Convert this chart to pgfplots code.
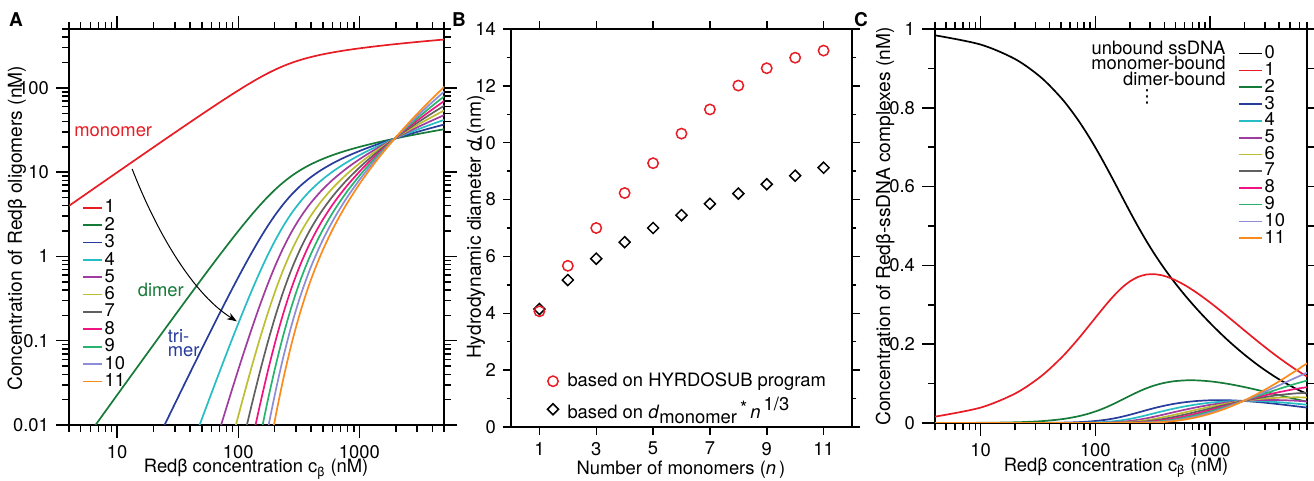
\documentclass[border=0pt]{standalone}
\usepackage{fontspec}
\setmainfont{TeX Gyre Heros}
\newfontfamily\dejavu{DejaVu Sans}
\usepackage{pgfplots}
\usepackage{pgfplotstable}
\pgfplotsset{compat=1.18}
\usetikzlibrary{arrows.meta}

\definecolor{c0}{RGB}{0,0,0}
\definecolor{c1}{RGB}{232,28,36}
\definecolor{c2}{RGB}{22,122,56}
\definecolor{c3}{RGB}{40,60,156}
\definecolor{c4}{RGB}{38,190,196}
\definecolor{c5}{RGB}{160,60,160}
\definecolor{c6}{RGB}{190,190,50}
\definecolor{c7}{RGB}{96,96,96}
\definecolor{c8}{RGB}{240,20,130}
\definecolor{c9}{RGB}{40,180,110}
\definecolor{c10}{RGB}{140,140,215}
\definecolor{c11}{RGB}{250,140,30}

\newcommand{\fs}{\fontsize{9.2}{11}\selectfont}
\newcommand{\fl}{\fontsize{9.6}{11}\selectfont}

% oligomer concentrations (nM) vs total Red-beta concentration c
\pgfplotstableread{
r c m1 m2 m3 m4 m5 m6 m7 m8 m9 m10 m11
0.0121 4.0 3.99 0.00366 4.43e-5 5.36e-7 6.48e-9 7.84e-11 9.5e-13 1.15e-14 1.39e-16 1.68e-18 2.03e-20
0.03 9.95 9.9 0.0225 6.75e-4 2.03e-5 6.08e-7 1.82e-8 5.47e-10 1.64e-11 4.92e-13 1.48e-14 4.43e-16
0.06 20.0 19.8 0.09 0.0054 3.24e-4 1.94e-5 1.17e-6 7.0e-8 4.2e-9 2.52e-10 1.51e-11 9.07e-13
0.1 33.59 33 0.25 0.025 0.0025 2.5e-4 2.5e-5 2.5e-6 2.5e-7 2.5e-8 2.5e-9 2.5e-10
0.15 50.94 49.5 0.5625 0.0844 0.01266 0.0019 2.85e-4 4.27e-5 6.4e-6 9.6e-7 1.44e-7 2.16e-8
0.2 68.81 66 1.0 0.2 0.04 0.008 0.0016 3.2e-4 6.4e-5 1.28e-5 2.56e-6 5.12e-7
0.25 87.36 82.5 1.5625 0.3906 0.0977 0.0244 0.0061 0.00153 3.81e-4 9.5e-5 2.38e-5 5.96e-6
0.3 106.81 99 2.25 0.675 0.2025 0.0608 0.0182 0.00547 0.00164 4.92e-4 1.48e-4 4.43e-5
0.35 127.46 115.5 3.0625 1.0719 0.3752 0.1313 0.04596 0.01608 0.00563 0.00197 6.9e-4 2.41e-4
0.4 149.77 132 4 1.6 0.64 0.256 0.1024 0.04096 0.01638 0.00655 0.00262 0.00105
0.45 174.40 148.5 5.0625 2.2781 1.0252 0.4613 0.2076 0.09342 0.04204 0.01892 0.00851 0.00383
0.5 202.34 165 6.25 3.125 1.5625 0.78125 0.3906 0.1953 0.09766 0.04883 0.02441 0.01221
0.55 235.09 181.5 7.5625 4.1594 2.2877 1.2582 0.692 0.3806 0.2093 0.1151 0.0633 0.0348
0.6 274.91 198 9 5.4 3.24 1.944 1.1664 0.6998 0.4199 0.2519 0.1512 0.0907
0.65 325.28 214.5 10.5625 6.8656 4.4627 2.9007 1.8855 1.2256 0.7966 0.5178 0.3366 0.2188
0.7 391.41 231 12.25 8.575 6.0025 4.2018 2.9412 2.0589 1.4412 1.0088 0.7062 0.4943
0.75 481.24 247.5 14.0625 10.5469 7.9102 5.9326 4.4495 3.3371 2.5028 1.8771 1.4078 1.0559
0.8 606.56 264 16 12.8 10.24 8.192 6.5536 5.2429 4.1943 3.3554 2.6844 2.1475
0.85 784.87 280.5 18.0625 15.3531 13.0502 11.0926 9.4288 8.0144 6.8123 5.7904 4.9219 4.1836
0.9 1041.75 297 20.25 18.225 16.4025 14.7623 13.286 11.9574 10.7617 9.6855 8.717 7.8453
0.95 1414.17 313.5 22.5625 21.4344 20.3627 19.3445 18.3773 17.4584 16.5855 15.7562 14.9684 14.22
1.0 1955 330 25 25 25 25 25 25 25 25 25 25
1.05 2738.9 346.5 27.5625 28.9406 30.3877 31.9071 33.5024 35.1775 36.9364 38.7832 40.7224 42.7585
1.1 3870.1 363 30.25 33.275 36.6025 40.2628 44.289 48.7179 53.5897 58.9487 64.8436 71.3279
1.15 5492.6 379.5 33.0625 38.0219 43.7252 50.2839 57.8265 66.5005 76.4756 87.9469 101.139 116.31
1.2 7803.1 396 36 43.2 51.84 62.208 74.6496 89.5795 107.495 128.995 154.793 185.752
}\tabA

% Red-beta/ssDNA complexes (nM), 0 = unbound ssDNA
\pgfplotstableread{
r c f0 f1 f2 f3 f4 f5 f6 f7 f8 f9 f10 f11
0.0121 4.0 0.984 0.0161 0.000075 0 0 0 0 0 0 0 0 0
0.03 9.95 0.9607 0.0389 0.00045 0.0000083 0 0 0 0 0 0 0 0
0.06 20.0 0.9236 0.0748 0.00174 0.000064 0.0000038 0 0 0 0 0 0 0
0.1 33.59 0.8771 0.1184 0.00459 0.00028 0.000028 0.0000028 0 0 0 0 0 0
0.15 50.94 0.8234 0.1667 0.00968 0.000887 0.000133 0.00002 0.000003 0 0 0 0 0
0.2 68.81 0.7739 0.2089 0.01617 0.001975 0.000395 0.000079 0.0000158 0.0000032 0 0 0 0
0.25 87.36 0.7279 0.2457 0.02376 0.003628 0.000907 0.000227 0.0000567 0.0000142 0.0000035 0 0 0
0.3 106.81 0.6849 0.2774 0.03221 0.0059 0.00177 0.000531 0.000159 0.0000478 0.0000143 0.0000043 0.0000013 0
0.35 127.46 0.6444 0.3045 0.04125 0.008814 0.003085 0.00108 0.000378 0.000132 0.0000463 0.0000162 0.0000057 0.000002
0.4 149.77 0.6061 0.3273 0.05067 0.01237 0.00495 0.00198 0.000792 0.000317 0.000127 0.0000507 0.0000203 0.0000081
0.45 174.40 0.5693 0.3459 0.06024 0.01655 0.007447 0.003351 0.001508 0.000679 0.000305 0.000137 0.0000618 0.0000278
0.5 202.34 0.5338 0.3603 0.06973 0.02129 0.01064 0.00532 0.00266 0.00133 0.000665 0.000333 0.000166 0.000083
0.55 235.09 0.4991 0.3706 0.07889 0.02649 0.01457 0.008013 0.004407 0.002424 0.001333 0.000733 0.000403 0.000222
0.6 274.91 0.4648 0.3765 0.08743 0.03203 0.01922 0.01153 0.006917 0.004151 0.00249 0.001494 0.000897 0.000538
0.65 325.28 0.4304 0.3777 0.09502 0.03771 0.02451 0.01593 0.01036 0.00673 0.004375 0.002844 0.001849 0.001202
0.7 391.41 0.3956 0.3739 0.10129 0.04329 0.0303 0.02121 0.01485 0.01039 0.007275 0.005093 0.003565 0.002495
0.75 481.24 0.36 0.3645 0.10582 0.04845 0.03634 0.02725 0.02044 0.01533 0.0115 0.008624 0.006468 0.004851
0.8 606.56 0.3235 0.3494 0.10819 0.05284 0.04227 0.03382 0.02705 0.02164 0.01731 0.01385 0.01108 0.008865
0.85 784.87 0.2862 0.3284 0.10804 0.05607 0.04766 0.04051 0.03443 0.02927 0.02488 0.02115 0.01797 0.01528
0.9 1041.75 0.2485 0.3019 0.10517 0.05779 0.05201 0.04681 0.04213 0.03791 0.03412 0.03071 0.02764 0.02488
0.95 1414.17 0.2112 0.2709 0.09962 0.05778 0.05489 0.05214 0.04954 0.04706 0.04471 0.04247 0.04035 0.03833
1.0 1955 0.1756 0.237 0.09173 0.056 0.056 0.056 0.056 0.056 0.056 0.056 0.056 0.056
1.05 2738.9 0.1426 0.2021 0.08214 0.05266 0.05529 0.05805 0.06096 0.064 0.06721 0.07056 0.07409 0.0778
1.1 3870.1 0.1133 0.1683 0.07163 0.04811 0.05292 0.05821 0.06403 0.07044 0.07748 0.08523 0.09375 0.1031
1.15 5492.6 0.0883 0.1371 0.06102 0.04284 0.04927 0.05666 0.06516 0.07493 0.08617 0.0991 0.114 0.1311
1.2 7803.1 0.0677 0.1097 0.05094 0.03732 0.04479 0.05375 0.0645 0.0774 0.09287 0.1114 0.1337 0.1605
}\tabC

\pgfplotsset{
  panel/.style={
    scale only axis, clip=true,
    axis line style={line width=0.75pt},
    tick style={black, line width=0.75pt},
    tick align=outside, tick pos=both,
    xticklabel pos=lower, yticklabel pos=left,
    major tick length=6.5pt, minor tick length=3.5pt,
    tick label style={font=\fs},
    xlabel style={font=\fs}, ylabel style={font=\fl},
    /pgf/number format/assume math mode=true,
    /pgf/number format/1000 sep={},
  },
  curve/.style={line width=0.85pt, smooth},
  legA/.style={legend image code/.code={\draw[##1] (0pt,0pt) -- (9.5pt,0pt);}},
  legC/.style={legend image code/.code={\draw[##1] (0pt,0pt) -- (11.5pt,0pt);}},
  markleg/.style={legend image code/.code={\draw[##1] plot coordinates {(0pt,0pt)};}},
}

\begin{document}
\begin{tikzpicture}
\useasboundingbox (0,0) rectangle (657pt,240.5pt);

% ---------- A ----------
\begin{axis}[panel,
  at={(34.5pt,28pt)}, anchor=south west, width=187.5pt, height=198pt,
  xmode=log, ymode=log, xmin=4, xmax=5000, ymin=0.01, ymax=500,
  log ticks with fixed point,
  xtick={10,100,1000},
  minor xtick={4,5,6,7,8,9,20,30,40,50,60,70,80,90,200,300,400,500,600,700,800,900,2000,3000,4000,5000},
  ytick={0.01,0.1,1,10,100},
  minor ytick={0.02,0.03,0.04,0.05,0.06,0.07,0.08,0.09,0.2,0.3,0.4,0.5,0.6,0.7,0.8,0.9,2,3,4,5,6,7,8,9,20,30,40,50,60,70,80,90,200,300,400,500},
  xlabel={Redβ concentration c\textsubscript{β} (nM)},
  xlabel style={at={(axis description cs:0.499,-0.112)}, anchor=center},
  ylabel={Concentration of Redβ oligomers (nM)},
  ylabel style={at={(axis description cs:-0.139,0.497)}, anchor=center},
  legend style={at={(axis description cs:0.0347,0.569)}, anchor=north west,
    draw=none, fill=none, inner sep=0pt, outer sep=0pt,
    row sep=0.7pt, column sep=1pt, font=\fs, nodes={inner sep=0pt}},
  legend cell align=left, legA,
]
\addplot[c1, curve] table[x=c, y=m1] {\tabA}; \addlegendentry{1}
\addplot[c2, curve] table[x=c, y=m2] {\tabA}; \addlegendentry{2}
\addplot[c3, curve] table[x=c, y=m3] {\tabA}; \addlegendentry{3}
\addplot[c4, curve] table[x=c, y=m4] {\tabA}; \addlegendentry{4}
\addplot[c5, curve] table[x=c, y=m5] {\tabA}; \addlegendentry{5}
\addplot[c6, curve] table[x=c, y=m6] {\tabA}; \addlegendentry{6}
\addplot[c7, curve] table[x=c, y=m7] {\tabA}; \addlegendentry{7}
\addplot[c8, curve] table[x=c, y=m8] {\tabA}; \addlegendentry{8}
\addplot[c9, curve] table[x=c, y=m9] {\tabA}; \addlegendentry{9}
\addplot[c10, curve] table[x=c, y=m10] {\tabA}; \addlegendentry{10}
\addplot[c11, curve] table[x=c, y=m11] {\tabA}; \addlegendentry{11}
\node[anchor=west, text=c1, font=\fs, inner sep=0pt] at (axis cs:4.4,29.9) {monomer};
\node[anchor=west, text=c2, font=\fs, inner sep=0pt] at (axis cs:14.7,0.405) {dimer};
\node[anchor=west, text=c3, font=\fs, inner sep=0pt] at (axis cs:26,0.1125) {tri-};
\node[anchor=west, text=c3, font=\fs, inner sep=0pt] at (axis cs:26,0.0746) {mer};
\draw[line width=0.5pt, -{Stealth[length=5pt,width=3.6pt]}]
  (axis cs:13.3,10.9) .. controls (axis cs:19.5,2.63) and (axis cs:38.8,0.386) .. (axis cs:97.3,0.17);
\end{axis}

% ---------- B ----------
\begin{axis}[panel,
  at={(255.5pt,27pt)}, anchor=south west, width=170.5pt, height=199pt,
  xmin=0, xmax=12, ymin=0, ymax=14,
  xtick={1,3,5,7,9,11}, ytick={0,2,4,6,8,10,12,14}, minor ytick={1,3,5,7,9,11,13},
  major tick length=4pt, minor tick length=2.2pt,
  xlabel={Number of monomers (\textit{n}\,)},
  xlabel style={at={(axis description cs:0.4985,-0.108)}, anchor=center},
  ylabel={Hydrodynamic diameter \textit{d} (nm)},
  ylabel style={at={(axis description cs:-0.1026,0.5025)}, anchor=center},
  legend style={at={(axis description cs:0.107,0.0115)}, anchor=south west,
    draw=none, fill=none, inner sep=0pt, outer sep=0pt,
    row sep=2.7pt, column sep=4pt, font=\fs, nodes={inner sep=0.5pt}},
  legend cell align=left, reverse legend,
]
\addplot[only marks, mark=square, mark size=1.95pt, black,
  mark options={rotate=45, line width=0.75pt}, markleg] coordinates {
  (1,4.15) (2,5.17) (3,5.92) (4,6.50) (5,7.00) (6,7.45) (7,7.85) (8,8.21) (9,8.54) (10,8.84) (11,9.12)
};
\addlegendentry{based on \textit{d}\raisebox{-2.4pt}{monomer}\,\raisebox{2pt}{*}\,\textit{n}\,\raisebox{4pt}{1/3}}
\addplot[only marks, mark=o, mark size=2.6pt, c1,
  mark options={line width=0.75pt}, markleg] coordinates {
  (1,4.07) (2,5.67) (3,7.00) (4,8.23) (5,9.28) (6,10.32) (7,11.17) (8,12.01) (9,12.62) (10,12.99) (11,13.24)
};
\addlegendentry{based on HYRDOSUB program}
\end{axis}

% ---------- C ----------
\begin{axis}[panel,
  at={(467.5pt,29pt)}, anchor=south west, width=186pt, height=197pt,
  xmode=log, xmin=4, xmax=7000, ymin=0, ymax=1,
  log ticks with fixed point,
  xtick={10,100,1000},
  minor xtick={4,5,6,7,8,9,20,30,40,50,60,70,80,90,200,300,400,500,600,700,800,900,2000,3000,4000,5000,6000,7000},
  ytick={0,0.2,0.4,0.6,0.8,1}, minor ytick={0.1,0.3,0.5,0.7,0.9},
  xlabel={Redβ concentration c\textsubscript{β} (nM)},
  xlabel style={at={(axis description cs:0.4866,-0.114)}, anchor=center},
  ylabel={Concentration of Redβ-ssDNA complexes (nM)},
  ylabel style={at={(axis description cs:-0.134,0.499)}, anchor=center},
  legend style={at={(axis description cs:0.8145,0.958)}, anchor=north west,
    draw=none, fill=none, inner sep=0pt, outer sep=0pt,
    row sep=0.4pt, column sep=1pt, font=\fs, nodes={inner sep=0pt}},
  legend cell align=left, legC,
]
\addplot[c0, curve] table[x=c, y=f0] {\tabC}; \addlegendentry{0}
\addplot[c1, curve] table[x=c, y=f1] {\tabC}; \addlegendentry{1}
\addplot[c2, curve] table[x=c, y=f2] {\tabC}; \addlegendentry{2}
\addplot[c3, curve] table[x=c, y=f3] {\tabC}; \addlegendentry{3}
\addplot[c4, curve] table[x=c, y=f4] {\tabC}; \addlegendentry{4}
\addplot[c5, curve] table[x=c, y=f5] {\tabC}; \addlegendentry{5}
\addplot[c6, curve] table[x=c, y=f6] {\tabC}; \addlegendentry{6}
\addplot[c7, curve] table[x=c, y=f7] {\tabC}; \addlegendentry{7}
\addplot[c8, curve] table[x=c, y=f8] {\tabC}; \addlegendentry{8}
\addplot[c9, curve] table[x=c, y=f9] {\tabC}; \addlegendentry{9}
\addplot[c10, curve] table[x=c, y=f10] {\tabC}; \addlegendentry{10}
\addplot[c11, curve] table[x=c, y=f11] {\tabC}; \addlegendentry{11}
\node[anchor=east, font=\fs, inner sep=0pt] at (axis description cs:0.782,0.9518) {unbound ssDNA};
\node[anchor=east, font=\fs, inner sep=0pt] at (axis description cs:0.782,0.9137) {monomer-bound};
\node[anchor=east, font=\fs, inner sep=0pt] at (axis description cs:0.782,0.873) {dimer-bound};
\node[font=\dejavu\fontsize{9}{10}\selectfont, inner sep=0pt] at (axis description cs:0.570,0.827) {⋮};
\end{axis}

\node[font=\bfseries\fontsize{9.5}{10}\selectfont] at (8pt,230.5pt) {A};
\node[font=\bfseries\fontsize{9.5}{10}\selectfont] at (229.5pt,230.5pt) {B};
\node[font=\bfseries\fontsize{9.5}{10}\selectfont] at (430.5pt,230.5pt) {C};
\end{tikzpicture}
\end{document}
